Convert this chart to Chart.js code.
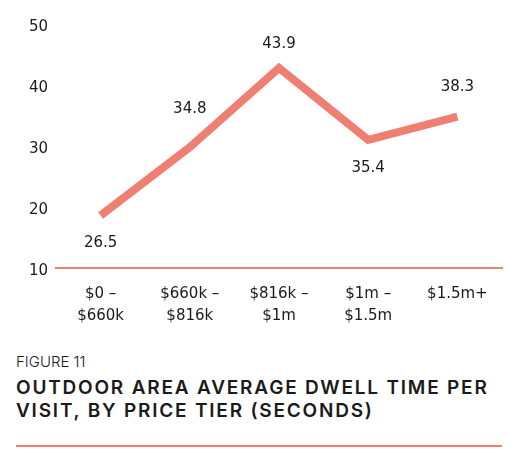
<!DOCTYPE html>
<html>
<head>
<meta charset="utf-8">
<script src="https://cdn.jsdelivr.net/npm/chart.js@4.4.1/dist/chart.umd.min.js"></script>
<style>
  html, body { margin: 0; padding: 0; background: #fff; }
  body { width: 522px; height: 465px; position: relative; overflow: hidden; font-family: "DejaVu Sans", sans-serif; color: #1a1a1a; }
  #wrap { position: absolute; left: 0; top: 0; width: 522px; height: 340px; }
  .fig { position: absolute; left: 16px; top: 352px; font-family: Inter, sans-serif; font-size: 15px; line-height: 20px; font-weight: 300; color: #1a1a1a; }
  .title { position: absolute; left: 16px; top: 377px; font-family: Inter, sans-serif; font-size: 19px; line-height: 22.5px; font-weight: 600; letter-spacing: 1.8px; color: #1a1a1a; }
  .rule { position: absolute; left: 16px; top: 445px; width: 486px; height: 2px; background: #ef7f72; }
</style>
</head>
<body>
<div id="wrap"><canvas id="chart"></canvas></div>
<div class="fig">FIGURE 11</div>
<div class="title">OUTDOOR AREA AVERAGE DWELL TIME PER<br>VISIT, BY PRICE TIER (SECONDS)</div>
<div class="rule"></div>
<script>
const tiers = [['$0 –', '$660k'], ['$660k –', '$816k'], ['$816k –', '$1m'], ['$1m –', '$1.5m'], ['$1.5m+']];
// plotted positions as drawn in the figure
const dwell = [18.6, 29.8, 42.8, 31.0, 34.8];
// labels printed next to each point
const dwellLabels = ['26.5', '34.8', '43.9', '35.4', '38.3'];
const yTicks = [10, 20, 30, 40, 50];

const salmon = '#ef7f72';

const pointLabels = {
  id: 'pointLabels',
  afterDatasetsDraw(chart, args, opts) {
    const ctx = chart.ctx;
    const meta = chart.getDatasetMeta(0);
    ctx.save();
    ctx.font = '15px "DejaVu Sans"';
    ctx.fillStyle = '#1a1a1a';
    ctx.textAlign = 'center';
    ctx.textBaseline = 'middle';
    meta.data.forEach((pt, i) => {
      ctx.fillText(dwellLabels[i], pt.x, pt.y + opts.offsets[i]);
    });
    ctx.restore();
  }
};

new Chart(document.getElementById('chart'), {
  type: 'line',
  data: {
    labels: tiers,
    datasets: [{
      data: dwell,
      borderColor: salmon,
      borderWidth: 8,
      pointRadius: 0,
      tension: 0,
      borderCapStyle: 'butt',
      borderJoinStyle: 'miter',
    }],
  },
  options: {
    responsive: true,
    maintainAspectRatio: false,
    animation: false,
    layout: { padding: { top: 24, right: 20, bottom: 12, left: 0 } },
    plugins: {
      legend: { display: false },
      tooltip: { enabled: false },
      pointLabels: { offsets: [28, -38, -24, 28, -30] },
    },
    scales: {
      x: {
        offset: true,
        grid: { display: false, drawTicks: false },
        border: { display: true, color: salmon, width: 2 },
        ticks: { color: '#1a1a1a', font: { family: 'DejaVu Sans', size: 15, lineHeight: 1.45 }, padding: 15, maxRotation: 0, autoSkip: false },
        afterFit: (s) => { s.height = 60; },
      },
      y: {
        min: 10,
        max: 50,
        grid: { display: false, drawTicks: false },
        border: { display: false },
        afterBuildTicks: (s) => { s.ticks = yTicks.map(v => ({ value: v })); },
        ticks: { color: '#1a1a1a', font: { family: 'DejaVu Sans', size: 15 }, padding: 8, labelOffset: 3 },
        afterFit: (s) => { s.width = 56; },
      },
    },
  },
  plugins: [pointLabels],
});
</script>
</body>
</html>
